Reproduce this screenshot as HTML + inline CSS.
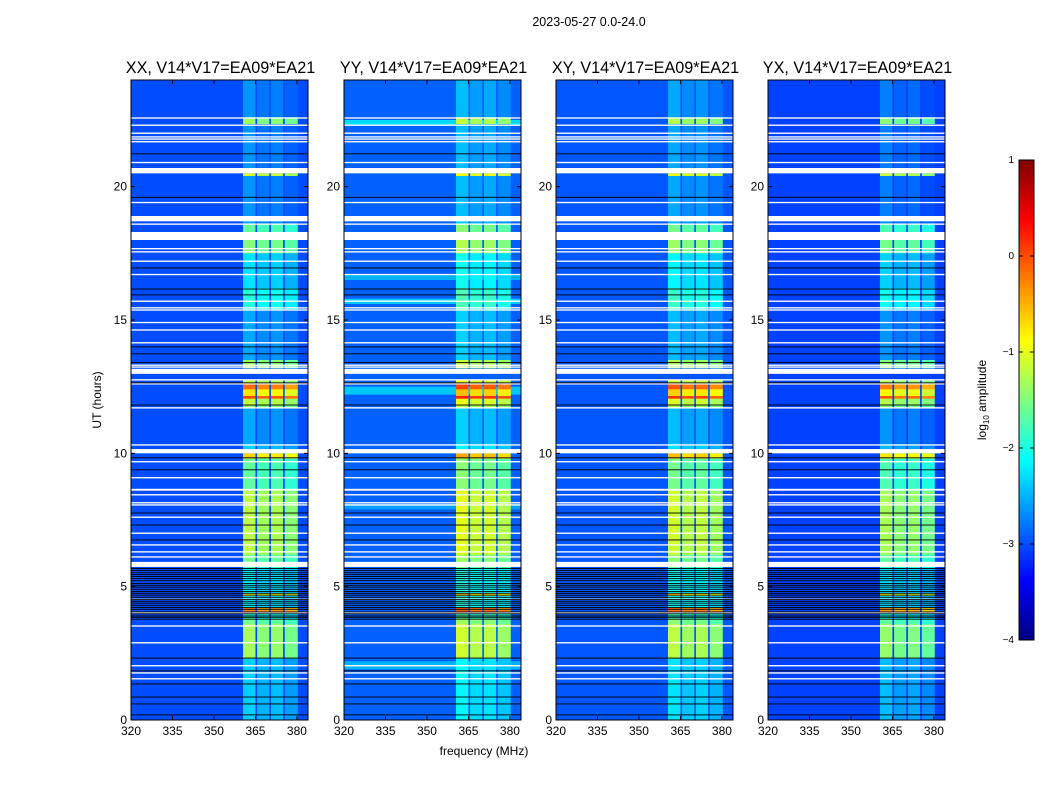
<!DOCTYPE html>
<html><head><meta charset="utf-8">
<style>
body{margin:0;background:#fff;}
svg{display:block;font-family:"Liberation Sans",sans-serif;}
</style></head>
<body>
<svg id="chart" width="1050" height="800" viewBox="0 0 1050 800">
<text x="589" y="26" font-size="12.5" text-anchor="middle">2023-05-27 0.0-24.0</text>
<text x="484" y="755" font-size="12" text-anchor="middle">frequency (MHz)</text>
<text transform="translate(101,400) rotate(-90)" font-size="12" text-anchor="middle">UT (hours)</text>
<g id="panels"></g>
<g id="cbar"></g>
<text transform="translate(986,400) rotate(-90)" font-size="12" text-anchor="middle">log<tspan font-size="8" dy="3">10</tspan><tspan dy="-3"> amplitude</tspan></text>
</svg>
<script>
const panelTitles=["XX, V14*V17=EA09*EA21","YY, V14*V17=EA09*EA21","XY, V14*V17=EA09*EA21","YX, V14*V17=EA09*EA21"];
const panelOffsets=[0,0.2,0.1,-0.1];
const hourTicks=[0,5,10,15,20];
const freqTicks=[320,335,350,365,380];
const cbarTicks=[1,0,-1,-2,-3,-4];
const baseLevel=-3.0;
// RFI band segments (hours) and log10 amplitude
const segStart=[23.0,22.6,22.35,21.2,21.0,20.5,20.4,18.9,18.6,18.3,18.0,17.5,16.2,15.4,13.5,13.2,12.6,12.4,12.15,12.05,11.8,11.7,10.3,10.0,9.8,8.7,8.6,6.2,5.9,5.7,4.75,4.65,4.2,4.05,3.8,3.6,2.3,0];
const segEnd  =[24.0,23.0,22.6,22.35,21.2,21.0,20.5,20.4,18.9,18.6,18.3,18.0,17.5,16.2,15.4,13.5,12.75,12.6,12.4,12.15,12.05,11.8,11.7,10.3,10.0,9.8,8.7,8.6,6.2,5.9,5.7,4.75,4.65,4.2,4.05,3.8,3.6,2.3];
const segLevel=[-2.8,-2.8,-1.5,-2.8,-2.8,-2.8,-1.2,-2.8,-2.7,-1.8,-2.6,-1.6,-2.4,-2.1,-2.7,-1.5,-1.3,-0.3,-0.9,-0.1,-1.3,-1.5,-2.7,-2.5,-0.8,-1.8,-1.8,-1.35,-1.7,-1.9,-2.3,-1.0,-2.3,-0.4,-2.1,-1.7,-1.45,-2.5];
const subStart=[360.5,365.6,370.6,375.6];
const subEnd=[365.0,370.0,375.0,380.3];
const subOffset=[0.15,0,0.05,-0.1];
// flagged (white) hour ranges
const flagStart=[22.55,22.28,21.98,21.84,21.76,21.66,20.88,20.5,19.38,18.7,18.57,18.0,17.65,17.53,17.18,16.68,15.68,15.43,15.35,14.88,14.6,14.12,13.28,13.21,12.98,12.73,12.58,11.68,10.29,10.0,9.66,9.06,8.6,8.42,8.12,8.04,7.58,6.98,6.54,6.28,6.09,5.74,4.5,4.0,3.5,2.87,2.01,1.74,1.52];
const flagEnd  =[22.6,22.33,22.03,21.89,21.81,21.71,20.93,20.7,19.43,18.9,18.62,18.3,17.7,17.58,17.23,16.73,15.73,15.48,15.4,14.93,14.65,14.17,13.33,13.26,13.17,12.78,12.63,11.73,10.34,10.16,9.71,9.11,8.67,8.47,8.17,8.09,7.63,7.03,6.59,6.33,6.14,5.93,4.55,4.05,3.55,2.92,2.06,1.79,1.57];
// black (bad data) lines, hours
const blackHours=[21.23,19.6,16.95,16.16,15.94,13.99,13.73,13.4,12.64,11.81,9.83,9.38,7.76,7.31,6.75,5.68,5.6,5.52,5.45,5.38,5.3,5.22,5.12,5.05,4.98,4.9,4.82,4.75,4.68,4.6,4.52,4.45,4.38,4.3,4.22,4.15,4.05,3.98,3.9,3.85,3.78,2.32,1.84,1.35,0.86,0.6,0.19];
// YY wide-band brighter stripes
const wideStart=[22.3,16.5,15.6,12.2,7.9,1.9];
const wideEnd=[22.5,16.7,15.8,12.5,8.1,2.2];
const wideLevel=[-2.3,-2.5,-2.4,-2.4,-2.6,-2.5];

const NS="http://www.w3.org/2000/svg";
const panelX=[131,344,556,768], PW=177, PT=80, PB=720;
const fMin=320,fMax=384,hMax=24;
function jet(v){let t=(v+4)/5;t=Math.max(0,Math.min(1,t));
 const c=a=>Math.round(255*Math.max(0,Math.min(1,1.5-Math.abs(4*t-a))));
 return `rgb(${c(3)},${c(2)},${c(1)})`;}
function el(tag,attrs,parent){const e=document.createElementNS(NS,tag);for(const k in attrs)e.setAttribute(k,attrs[k]);parent.appendChild(e);return e;}
const panels=document.getElementById('panels');
panelX.forEach((px,p)=>{
 const xs=f=>px+(f-fMin)/(fMax-fMin)*PW;
 const ys=h=>PB-h/hMax*(PB-PT);
 const g=el('g',{},panels);
 
 
 const bg=el('rect',{x:px,y:PT,width:PW,height:PB-PT,fill:jet(baseLevel+panelOffsets[p]*0.5)},g);
 
 
 if(p===1){wideStart.forEach((s,i)=>{
  const r=el('rect',{x:px,y:ys(wideEnd[i]),width:PW,height:ys(s)-ys(wideEnd[i]),fill:jet(wideLevel[i])},g);
  
  });}
 segStart.forEach((s,i)=>{
  subStart.forEach((f0,k)=>{
   const lv=segLevel[i]+panelOffsets[p]+subOffset[k];
   const r=el('rect',{x:xs(f0),y:ys(segEnd[i]),width:xs(subEnd[k])-xs(f0),height:ys(s)-ys(segEnd[i])+0.3,fill:jet(lv)},g);
   
   
  });
 });
 flagStart.forEach((s,i)=>{
  const h=Math.max(1.2,ys(s)-ys(flagEnd[i]));
  const r=el('rect',{x:px,y:ys(flagEnd[i]),width:PW,height:h,fill:'#fff'},g);
  
  
 });
 blackHours.forEach(h=>{
  const r=el('rect',{x:px,y:ys(h)-0.5,width:PW,height:0.9,fill:'#000'},g);
  
  
 });
 const fr=el('rect',{x:px,y:PT,width:PW,height:PB-PT,fill:'none',stroke:'#000','stroke-width':1},g);
 
 
 hourTicks.forEach(h=>{
  el('line',{x1:px,x2:px+4,y1:ys(h),y2:ys(h),stroke:'#000'},g);
  el('line',{x1:px+PW-4,x2:px+PW,y1:ys(h),y2:ys(h),stroke:'#000'},g);
  const t=el('text',{x:px-4,y:ys(h)+4,'font-size':12,'text-anchor':'end'},g);
  t.textContent=h;
  
  
 });
 freqTicks.forEach(f=>{
  el('line',{x1:xs(f),x2:xs(f),y1:PB,y2:PB-4,stroke:'#000'},g);
  el('line',{x1:xs(f),x2:xs(f),y1:PT,y2:PT+4,stroke:'#000'},g);
  const t=el('text',{x:xs(f),y:PB+15,'font-size':12,'text-anchor':'middle'},g);
  t.textContent=f;
  
  
 });
 const tt=el('text',{x:px+PW/2+1,y:73,'font-size':16.2,'text-anchor':'middle'},g);
 tt.textContent=panelTitles[p];
 
 
});
// colorbar
const cb=document.getElementById('cbar');
const cx=1019,cw=15,cTop=160,cBot=640;
const cbY=v=>cBot-(v+4)/5*(cBot-cTop);
for(let i=0;i<120;i++){
 const v0=-4+5*i/120,v1=-4+5*(i+1)/120;
 el('rect',{x:cx,y:cbY(v1)-0.3,width:cw,height:cbY(v0)-cbY(v1)+0.6,fill:jet((v0+v1)/2)},cb);
}
el('rect',{x:cx,y:cTop,width:cw,height:cBot-cTop,fill:'none',stroke:'#000'},cb);
cbarTicks.forEach(v=>{
 el('line',{x1:cx,x2:cx+4,y1:cbY(v),y2:cbY(v),stroke:'#000'},cb);
 el('line',{x1:cx+cw-4,x2:cx+cw,y1:cbY(v),y2:cbY(v),stroke:'#000'},cb);
 const t=el('text',{x:cx-5,y:cbY(v)+3,'font-size':10,'text-anchor':'end'},cb);
 t.textContent=v<0?'\u2212'+(-v):v;
 
 
});
</script>
</body></html>
